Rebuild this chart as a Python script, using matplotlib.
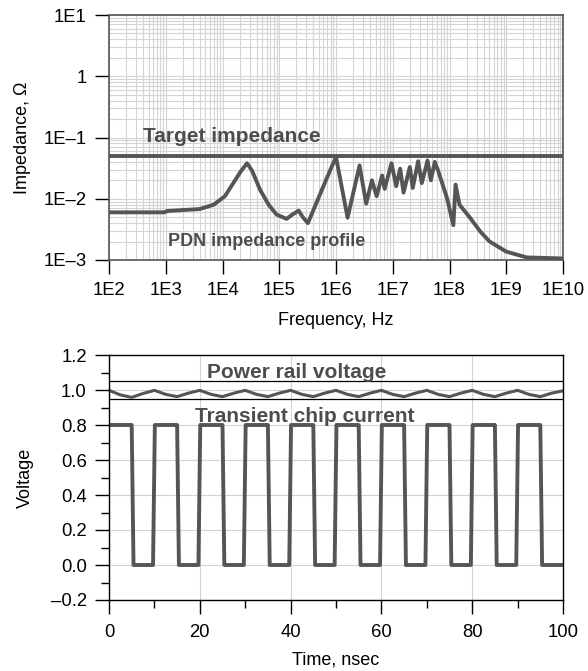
import matplotlib
matplotlib.use("Agg")
import matplotlib.pyplot as plt
from matplotlib.ticker import FuncFormatter, LogLocator, NullFormatter, MultipleLocator

plt.rcParams["font.family"] = ["Liberation Sans", "DejaVu Sans"]

# --- PDN impedance profile ---
pdn_freq = [1e2, 9.5e2, 1.05e3, 4e3, 7e3, 1.1e4, 1.55e4, 2.1e4, 2.7e4, 3.3e4,
            4.6e4, 6.5e4, 9e4, 1.35e5, 1.7e5, 2.2e5, 2.6e5, 3.2e5, 4.5e5, 6e5,
            8e5, 1e6, 1.6e6, 2.6e6, 3.4e6, 4.3e6, 5.2e6, 6.5e6, 7.2e6, 9.5e6,
            1.15e7, 1.35e7, 1.55e7, 2.0e7, 2.25e7, 2.8e7, 3.25e7, 4.1e7, 4.7e7,
            5.5e7, 6.2e7, 9e7, 1.17e8, 1.28e8, 1.5e8, 2.3e8, 3.5e8, 5.1e8,
            1e9, 2.3e9, 1e10]
pdn_z = [0.0060, 0.0060, 0.0063, 0.0068, 0.0080, 0.0110, 0.018, 0.028, 0.038, 0.029,
         0.014, 0.0080, 0.0055, 0.0047, 0.0055, 0.0064, 0.0050, 0.0040, 0.0085, 0.016,
         0.030, 0.048, 0.0049, 0.035, 0.0083, 0.020, 0.011, 0.024, 0.0145, 0.038,
         0.016, 0.031, 0.0126, 0.033, 0.015, 0.041, 0.018, 0.042, 0.020,
         0.040, 0.030, 0.0104, 0.0037, 0.017, 0.0080, 0.0049, 0.0029, 0.0020,
         0.00137, 0.0011, 0.00106]
target_z = 0.05

# --- transient waveforms (time in ns) ---
current_t = [0, 5.0, 5.4, 9.7, 10.1, 15.0, 15.4, 19.7, 20.1, 25.0, 25.4, 29.7,
             30.1, 35.0, 35.4, 39.7, 40.1, 45.0, 45.4, 49.7, 50.1, 55.0, 55.4,
             59.7, 60.1, 65.0, 65.4, 69.7, 70.1, 75.0, 75.4, 79.7, 80.1, 85.0,
             85.4, 89.7, 90.1, 95.0, 95.4, 100]
current_v = [0.8, 0.8, 0.0, 0.0, 0.8, 0.8, 0.0, 0.0, 0.8, 0.8, 0.0, 0.0,
             0.8, 0.8, 0.0, 0.0, 0.8, 0.8, 0.0, 0.0, 0.8, 0.8, 0.0,
             0.0, 0.8, 0.8, 0.0, 0.0, 0.8, 0.8, 0.0, 0.0, 0.8, 0.8,
             0.0, 0.0, 0.8, 0.8, 0.0, 0.0]
rail_t = [0, 2.5, 5, 7.5, 10, 12.5, 15, 17.5, 20, 22.5, 25, 27.5, 30, 32.5, 35,
          37.5, 40, 42.5, 45, 47.5, 50, 52.5, 55, 57.5, 60, 62.5, 65, 67.5, 70,
          72.5, 75, 77.5, 80, 82.5, 85, 87.5, 90, 92.5, 95, 97.5, 100]
rail_v = [0.998, 0.972, 0.958, 0.980, 0.998, 0.975, 0.962, 0.982, 0.998, 0.975,
          0.962, 0.982, 0.998, 0.975, 0.962, 0.982, 0.998, 0.975, 0.962, 0.982,
          0.998, 0.975, 0.962, 0.982, 0.998, 0.975, 0.962, 0.982, 0.998, 0.975,
          0.962, 0.982, 0.998, 0.975, 0.962, 0.982, 0.998, 0.975, 0.962, 0.982,
          0.995]
rail_limits = [1.05, 0.95]

decade_labels = ["1E2", "1E3", "1E4", "1E5", "1E6", "1E7", "1E8", "1E9", "1E10"]
z_labels = ["1E\u20133", "1E\u20132", "1E\u20131", "1", "1E1"]

LINE = "#555555"
TEXT = "#4d4d4d"
GRID = "#d4d4d4"
TICK_FS = 13.3
LABEL_FS = 13
NOTE_FS = 15

fig = plt.figure(figsize=(5.88, 6.71), dpi=100)

# ---------------- top: impedance ----------------
ax1 = fig.add_axes([109 / 588, 1 - 260 / 671, 454 / 588, 245 / 671])
ax1.set_xscale("log")
ax1.set_yscale("log")
ax1.set_xlim(1e2, 1e10)
ax1.set_ylim(1e-3, 1e1)
ax1.set_xticks([10.0 ** k for k in range(2, 11)], decade_labels)
ax1.set_yticks([10.0 ** k for k in range(-3, 2)], z_labels)
ax1.xaxis.set_minor_locator(LogLocator(base=10, subs=range(2, 10), numticks=20))
ax1.yaxis.set_minor_locator(LogLocator(base=10, subs=range(2, 10), numticks=20))
ax1.xaxis.set_minor_formatter(NullFormatter())
ax1.yaxis.set_minor_formatter(NullFormatter())
ax1.grid(True, which="both", color=GRID, linewidth=0.8)
ax1.set_axisbelow(True)
ax1.tick_params(which="major", direction="out", length=10, width=1.0,
                labelsize=TICK_FS, pad=6)
ax1.tick_params(which="minor", length=0)
for s in ax1.spines.values():
    s.set_color("#555555")
    s.set_linewidth(1.2)

ax1.axhline(target_z, color=LINE, linewidth=2.8)
ax1.plot(pdn_freq, pdn_z, color=LINE, linewidth=2.8, solid_joinstyle="round")
ax1.text(143 / 588, 1 - 137 / 671, "Target impedance", transform=fig.transFigure,
         fontsize=NOTE_FS, fontweight="bold", color=TEXT, va="center", ha="left")
ax1.text(168 / 588, 1 - 242 / 671, "PDN impedance profile", transform=fig.transFigure,
         fontsize=13, fontweight="bold", color=TEXT, va="center", ha="left")
ax1.set_xlabel("Frequency, Hz", fontsize=LABEL_FS, labelpad=9.5)
ax1.set_ylabel("Impedance, \u03a9", fontsize=LABEL_FS, labelpad=9)

# ---------------- bottom: transient ----------------
ax2 = fig.add_axes([109 / 588, 1 - 600 / 671, 454 / 588, 245 / 671])
ax2.set_xlim(0, 100)
ax2.set_ylim(-0.2, 1.2)
ax2.xaxis.set_major_locator(MultipleLocator(20))
ax2.xaxis.set_minor_locator(MultipleLocator(10))
ax2.yaxis.set_major_locator(MultipleLocator(0.2))
ax2.yaxis.set_minor_locator(MultipleLocator(0.1))
ax2.yaxis.set_major_formatter(FuncFormatter(lambda v, p: f"{v:.1f}".replace("-", "\u2013")))
ax2.grid(True, which="major", color=GRID, linewidth=0.8)
ax2.set_axisbelow(True)
ax2.tick_params(which="major", direction="out", length=10, width=1.0,
                labelsize=TICK_FS, pad=6)
ax2.tick_params(axis="x", which="major", pad=7.5)
ax2.tick_params(which="minor", direction="out", length=5.5, width=1.0)
for s in ax2.spines.values():
    s.set_color("black")
    s.set_linewidth(1.0)

for lim in rail_limits:
    ax2.axhline(lim, color="black", linewidth=0.9)
ax2.plot(rail_t, rail_v, color=LINE, linewidth=2.2)
ax2.plot(current_t, current_v, color=LINE, linewidth=2.8, solid_joinstyle="round")
ax2.text(207 / 588, 1 - 372 / 671, "Power rail voltage", transform=fig.transFigure,
         fontsize=NOTE_FS, fontweight="bold", color=TEXT, va="center", ha="left")
ax2.text(195 / 588, 1 - 416 / 671, "Transient chip current", transform=fig.transFigure,
         fontsize=NOTE_FS, fontweight="bold", color=TEXT, va="center", ha="left")
ax2.set_xlabel("Time, nsec", fontsize=LABEL_FS, labelpad=7)
ax2.set_ylabel("Voltage", fontsize=LABEL_FS, labelpad=12)

fig.savefig("out.png", dpi=100)
